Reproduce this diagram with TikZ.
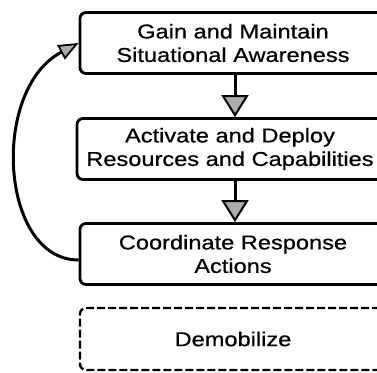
\documentclass[tikz,border=0pt]{standalone}
\usepackage{fontspec}
\setmainfont{Liberation Sans}[FakeStretch=1.18,FakeBold=0.6]
\usetikzlibrary{arrows.meta}
\begin{document}
\begin{tikzpicture}[x=1pt,y=-1pt,
  box/.style={draw, line width=2.8pt, rounded corners=6pt, minimum width=306pt,
    minimum height=61pt, align=center, inner sep=0pt,
    font=\fontsize{20}{23.5}\selectfont},
  dbox/.style={box, dash pattern=on 8pt off 3pt, line width=2.4pt},
  flow/.style={line width=3pt,
    -{Triangle[length=22pt,width=27pt,fill=gray!65,line width=2pt]}},
  back/.style={line width=3pt,
    -{Triangle[length=20pt,width=16pt,fill=gray!65,line width=1.8pt]}}]
\useasboundingbox (0,0) rectangle (377,372);
\clip (0,0) rectangle (377,372);
\node[box] (b1) at (233,43) {Gain and Maintain\\Situational Awareness};
\node[box] (b2) at (230,149) {Activate and Deploy\\Resources and Capabilities};
\node[box] (b3) at (233,254) {Coordinate Response\\Actions};
\node[dbox, minimum height=62pt] (b4) at (233,339) {Demobilize};
\draw[flow] (b1.south -| 235,0) -- (b2.north -| 235,0);
\draw[flow] (b2.south -| 235,0) -- (b3.north -| 235,0);
\draw[back] ([yshift=-6pt]b3.west) .. controls (0,260) and (-10,90) .. (b1.west);
\end{tikzpicture}
\end{document}
